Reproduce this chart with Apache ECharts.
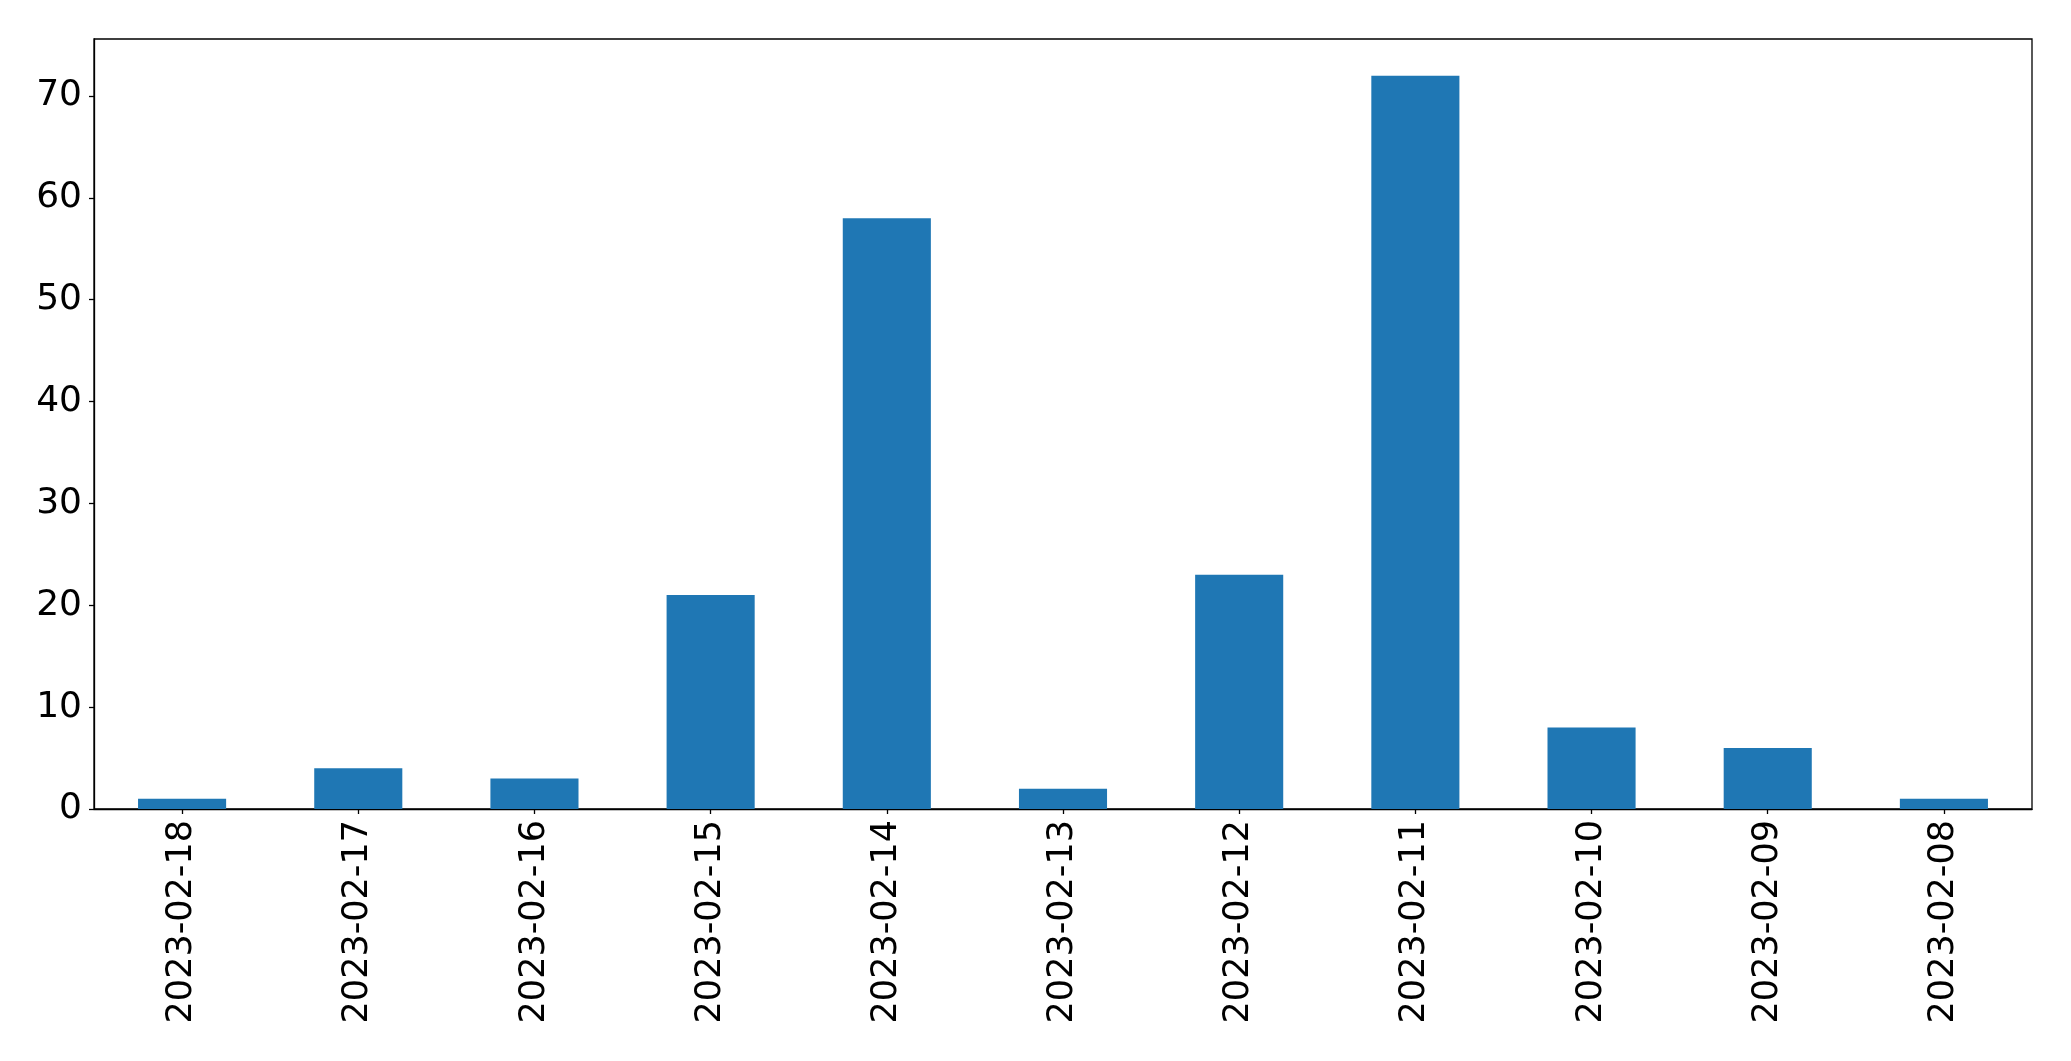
<!DOCTYPE html>
<html>
<head>
<meta charset="utf-8">
<script src="https://cdn.jsdelivr.net/npm/echarts@6/dist/echarts.min.js"></script>
<style>
html,body{margin:0;padding:0;background:#fff;}
#chart{width:2071px;height:1061px;}
</style>
</head>
<body>
<div id="chart"></div>
<script>
const categories = ["2023-02-18","2023-02-17","2023-02-16","2023-02-15","2023-02-14","2023-02-13","2023-02-12","2023-02-11","2023-02-10","2023-02-09","2023-02-08"];
const values = [1, 4, 3, 21, 58, 2, 23, 72, 8, 6, 1];
const yTicks = [0, 10, 20, 30, 40, 50, 60, 70];

const chart = echarts.init(document.getElementById('chart'), null, {renderer: 'canvas'});
const font = 'DejaVu Sans';
chart.setOption({
  animation: false,
  backgroundColor: '#ffffff',
  grid: {
    left: 94, right: 39, top: 39, bottom: 252,
    show: true, borderColor: '#000000', borderWidth: 1.3, backgroundColor: 'transparent'
  },
  xAxis: {
    type: 'category',
    data: categories,
    boundaryGap: true,
    axisLine: {show: true, lineStyle: {color: '#000000', width: 1.3}},
    axisTick: {show: true, alignWithLabel: true, length: 5, lineStyle: {color: '#000000', width: 1.3}},
    axisLabel: {rotate: 90, margin: 11, color: '#000000', fontFamily: font, fontSize: 35, interval: 0},
    splitLine: {show: false}
  },
  yAxis: {
    type: 'value',
    min: 0,
    max: 75.6,
    interval: 10,
    axisLine: {show: true, lineStyle: {color: '#000000', width: 1.3}},
    axisTick: {show: true, length: 5, lineStyle: {color: '#000000', width: 1.3}, customValues: yTicks},
    axisLabel: {margin: 12, color: '#000000', fontFamily: font, fontSize: 36, customValues: yTicks},
    splitLine: {show: false}
  },
  series: [{
    type: 'bar',
    data: values,
    barWidth: '50%',
    itemStyle: {color: '#1f77b4'}
  }]
});
</script>
</body>
</html>
